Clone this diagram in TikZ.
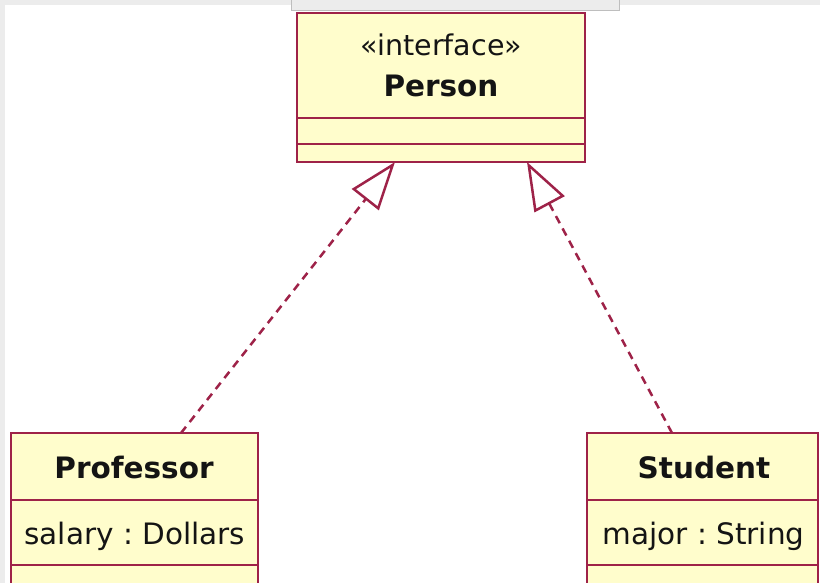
\documentclass[tikz,border=0pt]{standalone}
\usepackage{fontspec}
\setmainfont{DejaVu Sans}
\usetikzlibrary{arrows.meta}
\definecolor{umlline}{RGB}{158,34,72}
\definecolor{umlfill}{RGB}{255,253,204}
\definecolor{umltext}{RGB}{20,20,20}
\definecolor{framegray}{RGB}{236,236,236}
\definecolor{tabedge}{RGB}{190,190,190}
\tikzset{
  classbox/.style={draw=umlline, fill=umlfill, line width=2.8pt, rectangle,
    inner sep=0pt, outer sep=0pt, anchor=north west},
  divider/.style={draw=umlline, line width=2.8pt},
  classname/.style={font=\fontsize{29.5}{34}\selectfont\bfseries, text=umltext, anchor=base},
  stereo/.style={font=\fontsize{28.5}{33}\selectfont, text=umltext, anchor=base},
  attr/.style={font=\fontsize{29.5}{34}\selectfont\frenchspacing, text=umltext, anchor=base west},
  realize/.style={draw=umlline, line width=2.5pt, dash pattern=on 8pt off 6pt,
    -{Triangle[open, length=48pt, width=34pt, line width=2.5pt]}},
}
\begin{document}
\begin{tikzpicture}[x=1pt, y=-1pt]
  \clip (0,0) rectangle (820,583);
  \useasboundingbox (0,0) rectangle (820,583);
  % window frame and tab
  \fill[framegray] (0,0) rectangle (820,583);
  \fill[white] (5,5) rectangle (820,583);
  \filldraw[fill=framegray, draw=tabedge, line width=1pt] (291,0) -- (291,11) -- (619,11) -- (619,0);

  % interface Person
  \node[classbox, minimum width=288pt, minimum height=149pt] (person) at (297,13) {};
  \draw[divider] (person.west |- 0,118) -- (person.east |- 0,118);
  \draw[divider] (person.west |- 0,144) -- (person.east |- 0,144);
  \node[stereo] (pstereo) at (441,56) {«interface»};
  \node[classname] (pname) at (441,97) {Person};

  % class Professor
  \node[classbox, minimum width=247pt, minimum height=170pt] (prof) at (11,433) {};
  \draw[divider] (prof.west |- 0,500) -- (prof.east |- 0,500);
  \draw[divider] (prof.west |- 0,565) -- (prof.east |- 0,565);
  \node[classname] (profname) at (134,478) {Professor};
  \node[attr] (salary) at (21,544) {salary : Dollars};

  % class Student
  \node[classbox, minimum width=231pt, minimum height=170pt] (stud) at (587,433) {};
  \draw[divider] (stud.west |- 0,500) -- (stud.east |- 0,500);
  \draw[divider] (stud.west |- 0,565) -- (stud.east |- 0,565);
  \node[classname] (studname) at (704,478) {Student};
  \node[attr] (major) at (599,544) {major : String};

  % realizations
  \draw[realize] (prof.north -| 181,0) -- (person.south -| 395,0);
  \draw[realize] (stud.north -| 672,0) -- (person.south -| 527,0);
\end{tikzpicture}
\end{document}
